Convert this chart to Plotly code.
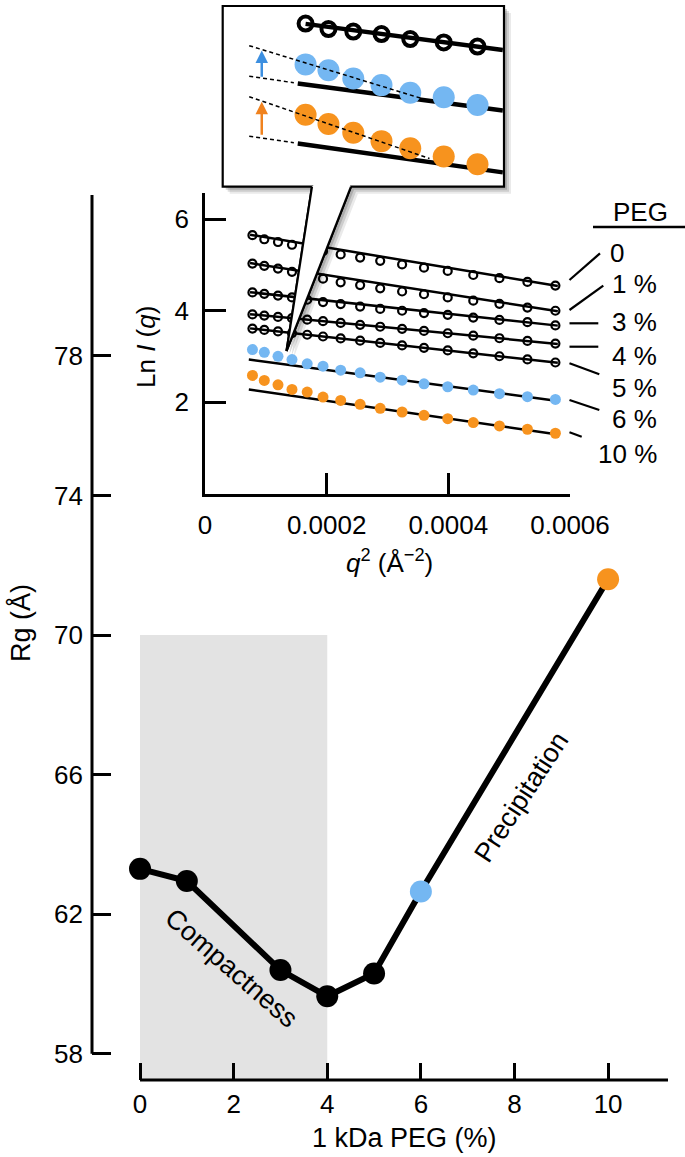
import plotly.graph_objects as go

W, H = 685, 1157
FONT = "Liberation Sans, Arial, Helvetica, sans-serif"
BLUE = "#74B7F2"
ORANGE = "#F7931E"
GRAY = "#E3E3E3"

# ---------------- main panel data ----------------
peg_pct = [0, 1, 3, 4, 5, 6, 10]
rg_values = [63.3, 62.95, 60.4, 59.65, 60.3, 62.65, 71.6]
rg_colors = ["#000000", "#000000", "#000000", "#000000", "#000000", BLUE, ORANGE]
rg_ticks = [58, 62, 66, 70, 74, 78]
peg_ticks = [0, 2, 4, 6, 8, 10]
compact_x = [0, 4]
compact_top = 70

# ---------------- inset (Guinier) data ----------------
q2 = [0.000078, 0.0000975, 0.00012, 0.000143, 0.000168, 0.000194, 0.000223, 0.000255,
      0.000288, 0.000324, 0.00036, 0.000399, 0.000441, 0.000484, 0.00053, 0.000576]
lnI_0 = [5.65, 5.56, 5.50, 5.44, 5.37, 5.30, 5.23, 5.16, 5.09, 5.01, 4.94, 4.87, 4.78, 4.71, 4.63, 4.55]
lnI_1 = [5.03, 4.98, 4.92, 4.85, 4.77, 4.70, 4.62, 4.56, 4.49, 4.42, 4.36, 4.29, 4.22, 4.15, 4.07, 4.00]
lnI_3 = [4.40, 4.37, 4.33, 4.29, 4.24, 4.19, 4.145, 4.09, 4.04, 4.00, 3.95, 3.91, 3.85, 3.80, 3.75, 3.68]
lnI_4 = [3.92, 3.895, 3.866, 3.837, 3.805, 3.772, 3.734, 3.693, 3.651, 3.605, 3.559, 3.509, 3.455, 3.40, 3.341, 3.283]
lnI_5 = [3.61, 3.581, 3.548, 3.513, 3.476, 3.438, 3.395, 3.347, 3.298, 3.244, 3.191, 3.133, 3.071, 3.007, 2.938, 2.87]
lnI_6 = [3.152, 3.093, 3.006, 2.935, 2.841, 2.79, 2.702, 2.646, 2.55, 2.485, 2.406, 2.341, 2.268, 2.19, 2.124, 2.065]
lnI_10 = [2.587, 2.478, 2.384, 2.283, 2.224, 2.115, 2.043, 1.957, 1.870, 1.790, 1.717, 1.645, 1.558, 1.485, 1.413, 1.326]
fit_q2 = [0.000074, 0.00058]
fit_0 = [5.66, 4.54]
fit_1 = [5.04, 3.99]
fit_3 = [4.405, 3.675]
fit_4 = [3.925, 3.275]
fit_5 = [3.615, 2.865]
fit_q2_agg = [0.000072, 0.00058]
fit_6 = [2.935, 2.03]
fit_10 = [2.283, 1.30]
inset_xticks = [0, 0.0002, 0.0004, 0.0006]
inset_xticktext = ["0", "0.0002", "0.0004", "0.0006"]
inset_yticks = [2, 4, 6]
peg_labels = ["0", "1 %", "3 %", "4 %", "5 %", "6 %", "10 %"]

# ---------------- callout (magnified view) data, callout units ----------------
zoom_x = [2.93, 3.75, 4.64, 5.65, 6.68, 7.88, 9.09]
zoom_black = [9.08, 8.77, 8.63, 8.49, 8.21, 8.02, 7.79]
zoom_blue = [6.79, 6.46, 6.00, 5.63, 5.20, 4.95, 4.52]
zoom_orange = [3.97, 3.45, 2.96, 2.49, 2.09, 1.63, 1.20]
zoom_black_fit_x = [2.93, 10]
zoom_black_fit = [9.06, 7.60]
zoom_fit_x = [2.65, 10]
zoom_blue_fit = [5.72, 4.21]
zoom_orange_fit = [2.36, 0.74]
zoom_ext_x = [0.91, 2.51]
zoom_blue_ext = [6.13, 5.76]
zoom_orange_ext = [2.77, 2.40]
zoom_blue_shift_x = [0.91, 7.07]
zoom_blue_shift = [7.84, 4.89]
zoom_orange_shift_x = [0.91, 7.37]
zoom_orange_shift = [4.98, 1.52]
arrow_x = 1.36
blue_arrow = [6.02, 7.57]
orange_arrow = [2.77, 4.70]


def px(x):
    return x / W


def py(y):
    return 1 - y / H


fig = go.Figure()

# main trace
fig.add_trace(go.Scatter(
    x=peg_pct, y=rg_values, mode="lines+markers",
    line=dict(color="black", width=6),
    marker=dict(color=rg_colors, size=22, line=dict(width=0)),
    xaxis="x", yaxis="y", showlegend=False, hoverinfo="skip"))

# inset fits and points
black_sets = [(lnI_0, fit_0), (lnI_1, fit_1), (lnI_3, fit_3), (lnI_4, fit_4), (lnI_5, fit_5)]
for pts, fit in black_sets:
    fig.add_trace(go.Scatter(x=fit_q2, y=fit, mode="lines", line=dict(color="black", width=2.5),
                             xaxis="x2", yaxis="y2", showlegend=False, hoverinfo="skip"))
for fit in [fit_6, fit_10]:
    fig.add_trace(go.Scatter(x=fit_q2_agg, y=fit, mode="lines", line=dict(color="black", width=2.5),
                             xaxis="x2", yaxis="y2", showlegend=False, hoverinfo="skip"))
for pts, fit in black_sets:
    fig.add_trace(go.Scatter(x=q2, y=pts, mode="markers",
                             marker=dict(symbol="circle-open", size=8, color="black", line=dict(width=2.2)),
                             xaxis="x2", yaxis="y2", showlegend=False, hoverinfo="skip"))
for pts, col in [(lnI_6, BLUE), (lnI_10, ORANGE)]:
    fig.add_trace(go.Scatter(x=q2, y=pts, mode="markers",
                             marker=dict(size=11, color=col, line=dict(width=0)),
                             xaxis="x2", yaxis="y2", showlegend=False, hoverinfo="skip"))


# callout traces
def cl(x, y, **kw):
    fig.add_trace(go.Scatter(x=x, y=y, xaxis="x3", yaxis="y3", showlegend=False,
                             hoverinfo="skip", cliponaxis=True, **kw))


cl(zoom_black_fit_x, zoom_black_fit, mode="lines", line=dict(color="black", width=4.5))
cl(zoom_fit_x, zoom_blue_fit, mode="lines", line=dict(color="black", width=4.5))
cl(zoom_fit_x, zoom_orange_fit, mode="lines", line=dict(color="black", width=4.5))
cl(zoom_x, zoom_black, mode="markers",
   marker=dict(symbol="circle-open", size=14, color="black", line=dict(width=4)))
cl(zoom_x, zoom_blue, mode="markers", marker=dict(size=22, color=BLUE, line=dict(width=0)))
cl(zoom_x, zoom_orange, mode="markers", marker=dict(size=22, color=ORANGE, line=dict(width=0)))
for xs, ys in [(zoom_ext_x, zoom_blue_ext), (zoom_ext_x, zoom_orange_ext),
               (zoom_blue_shift_x, zoom_blue_shift), (zoom_orange_shift_x, zoom_orange_shift)]:
    cl(xs, ys, mode="lines", line=dict(color="black", width=1.5, dash="4px,3px"))

shapes = []
# callout box + wedge (with shadow)
box = [(222.7, 6), (504, 6), (504, 186.7), (351, 186.7), (286.5, 351), (312, 186.7), (222.7, 186.7)]


def path(pts, dx=0, dy=0):
    return "M " + " L ".join(f"{px(x + dx):.5f},{py(y + dy):.5f}" for x, y in pts) + " Z"


for d, op in [(7, 0.12), (5, 0.18), (3, 0.25)]:
    shapes.append(dict(type="path", path=path(box, d, d), xref="paper", yref="paper",
                       fillcolor=f"rgba(80,80,80,{op})", line=dict(width=0), layer="below"))
shapes.append(dict(type="path", path=path(box), xref="paper", yref="paper",
                   fillcolor="white", line=dict(color="black", width=2.2), layer="below"))
wedge = [(312, 186.0), (351, 186.0), (286.5, 351)]
shapes.append(dict(type="path", path=path(wedge), xref="paper", yref="paper",
                   fillcolor="white", line=dict(width=0), layer="above"))
for (xa, ya), (xb, yb) in [((312, 186.7), (286.5, 351)), ((351, 186.7), (286.5, 351))]:
    shapes.append(dict(type="line", xref="paper", yref="paper", x0=px(xa), y0=py(ya), x1=px(xb), y1=py(yb),
                       line=dict(color="black", width=2.2), layer="above"))

# gray compactness region
shapes.append(dict(type="rect", xref="x", yref="y", x0=compact_x[0], x1=compact_x[1], y0=57.25,
                   y1=compact_top, line=dict(width=0), fillcolor=GRAY, layer="below"))
# main axis lines
shapes.append(dict(type="line", xref="x domain", yref="y", x0=0, x1=0, y0=58, y1=82.61,
                   line=dict(color="black", width=3)))
shapes.append(dict(type="line", xref="x", yref="y domain", x0=0, x1=11.28, y0=0, y1=0,
                   line=dict(color="black", width=3)))

# PEG legend leader lines
leaders = [((569.5, 280), (600, 253.3)), ((569.5, 310), (603.3, 285.7)), ((569.5, 323.3), (598.3, 323.3)),
           ((569.5, 346.7), (598.3, 346.7)), ((569.5, 363.3), (599.3, 374.3)),
           ((569.5, 400), (599.3, 410)), ((569.5, 432.3), (581.7, 436.7))]
for (xa, ya), (xb, yb) in leaders:
    shapes.append(dict(type="line", xref="paper", yref="paper", x0=px(xa), y0=py(ya), x1=px(xb), y1=py(yb),
                       line=dict(color="black", width=2.2)))
shapes.append(dict(type="line", xref="paper", yref="paper", x0=px(593), y0=py(227), x1=px(685), y1=py(227),
                   line=dict(color="black", width=2.5)))

TS = 26
F = dict(family=FONT, size=TS, color="black")
FT = dict(family=FONT, size=27, color="black")
annotations = []


def ann(text, x, y, xref="paper", yref="paper", font=F, xanchor="center", **kw):
    annotations.append(dict(text=text, x=x, y=y, xref=xref, yref=yref, showarrow=False, font=font,
                            xanchor=xanchor, yanchor="middle", **kw))


ann("Compactness", 1.95, 60.46, xref="x", yref="y", textangle=41, font=FT)
ann("Precipitation", 8.15, 65.36, xref="x", yref="y", textangle=-57, font=FT)
ann("Rg (Å)", px(20), py(623), textangle=-90, font=FT)
ann("1 kDa PEG (%)", px(404), py(1138), font=FT)
ann("Ln <i>I</i> (<i>q</i>)", px(146), py(347), textangle=-90)
ann("<i>q</i><sup>2</sup> (Å<sup>−2</sup>)", px(389), py(561))
ann("PEG", px(640), py(212))
label_y = [253, 284, 322, 356, 388, 419, 454]
for lab, yy in zip(peg_labels, label_y):
    if lab == "0":
        ann(lab, px(608), py(yy), xanchor="left")
    else:
        ann(lab, px(659), py(yy), xanchor="right")

# callout arrows
for ys, col in [(blue_arrow, "#3C8FE0"), (orange_arrow, "#F0821E")]:
    annotations.append(dict(text="", x=arrow_x, y=ys[1], ax=arrow_x, ay=ys[0], xref="x3", yref="y3",
                            axref="x3", ayref="y3", showarrow=True, arrowhead=2, arrowsize=1,
                            arrowwidth=2.5, arrowcolor=col, standoff=0, startstandoff=0))

axis_common = dict(showgrid=False, zeroline=False, ticks="inside", tickcolor="black",
                   tickfont=F, showline=False, automargin=False)

fig.update_layout(
    width=W, height=H, autosize=False,
    margin=dict(l=0, r=0, t=0, b=0, pad=0, autoexpand=False),
    paper_bgcolor="white", plot_bgcolor="rgba(0,0,0,0)",
    showlegend=False, font=dict(family=FONT, color="black"),
    xaxis=dict(domain=[px(92), px(668)], range=[-1.026, 11.28], tickvals=peg_ticks,
               ticklen=17, tickwidth=3, ticklabelstandoff=6, **axis_common),
    yaxis=dict(domain=[py(1080), py(195)], range=[57.25, 82.61], tickvals=rg_ticks,
               ticklen=19, tickwidth=3, ticklabelstandoff=8, **axis_common),
    xaxis2=dict(domain=[px(205), px(570)], range=[0, 0.0006], tickvals=inset_xticks,
                ticktext=inset_xticktext, anchor="y2", ticklen=21, tickwidth=2.5,
                ticklabelstandoff=6, showgrid=False, zeroline=False, ticks="inside", tickcolor="black",
                tickfont=F, showline=True, linecolor="black", linewidth=2.5, automargin=False),
    yaxis2=dict(domain=[py(494), py(193)], range=[0, 6.57], tickvals=inset_yticks, anchor="x2",
                ticklen=21, tickwidth=2.5, ticklabelstandoff=8, showgrid=False, zeroline=False,
                ticks="inside", tickcolor="black", tickfont=F, showline=True, linecolor="black",
                linewidth=2.5, automargin=False),
    xaxis3=dict(domain=[px(223.8), px(502.9)], range=[0, 10], visible=False, anchor="y3"),
    yaxis3=dict(domain=[py(185.6), py(7.1)], range=[0, 10], visible=False, anchor="x3"),
    shapes=shapes, annotations=annotations,
)

fig.write_html("out.html", config={"displayModeBar": False, "responsive": False},
               post_script="document.body.style.margin='0px';")
